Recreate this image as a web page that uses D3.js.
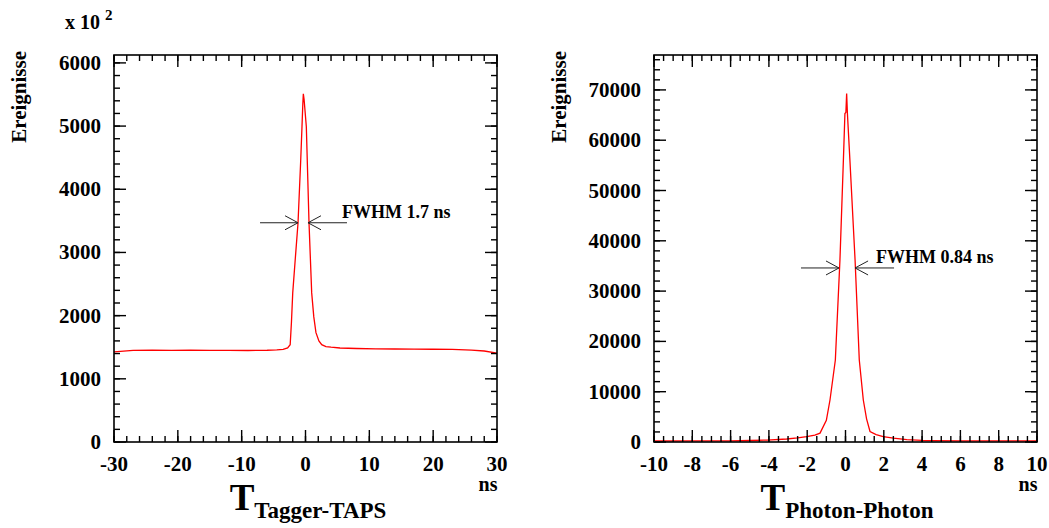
<!DOCTYPE html>
<html>
<head>
<meta charset="utf-8">
<script src="https://cdn.jsdelivr.net/npm/d3@7"></script>
<style>
  body { margin: 0; background: #fff; }
  svg text { font-family: "Liberation Serif", "Times New Roman", serif; font-weight: bold; fill: #000; }
</style>
</head>
<body>
<svg id="chart" width="1049" height="528"></svg>
<script>
// ---------- data ----------
// left: Tagger-TAPS time difference (ns), counts in units of 10^2
const taggerX = [-30, -27, -24, -21, -18, -15, -12, -9, -6, -4.5, -3.5, -2.8, -2.4, -2.2, -2.0, -1.6, -1.17, -0.75, -0.55, -0.42, -0.34, -0.22, 0.13, 0.55, 0.97, 1.3, 1.64, 2.1, 2.54, 3.2, 4, 5.4, 8, 11, 14, 17, 20, 23, 26, 28, 30];
const taggerY = [1425, 1450, 1455, 1450, 1455, 1450, 1450, 1448, 1452, 1458, 1465, 1490, 1540, 1900, 2360, 2900, 3470, 4460, 4990, 5350, 5510, 5420, 4990, 3470, 2360, 1980, 1730, 1600, 1540, 1510, 1500, 1488, 1480, 1475, 1472, 1470, 1468, 1465, 1455, 1440, 1408];

// right: Photon-Photon time difference (ns), counts
const photonX = [-10, -8, -6, -5, -4.1, -3.07, -2.5, -2.03, -1.6, -1.33, -1.0, -0.81, -0.53, -0.29, -0.11, -0.03, 0.02, 0.06, 0.1, 0.23, 0.5, 0.72, 0.93, 1.1, 1.28, 1.6, 1.97, 2.5, 3.2, 4, 4.6, 6, 8, 10];
const photonY = [200, 220, 240, 300, 380, 600, 820, 1080, 1380, 1760, 4300, 8350, 16300, 36180, 56060, 65300, 65500, 69300, 65300, 56060, 36180, 16300, 8350, 4600, 2080, 1480, 1080, 760, 480, 320, 260, 230, 210, 200];

const taggerXTicks = [-30, -20, -10, 0, 10, 20, 30];
const taggerYTicks = [0, 1000, 2000, 3000, 4000, 5000, 6000];
const photonXTicks = [-10, -8, -6, -4, -2, 0, 2, 4, 6, 8, 10];
const photonYTicks = [0, 10000, 20000, 30000, 40000, 50000, 60000, 70000];

// FWHM markers: [left edge, right edge, half-max level]
const taggerFwhm = [-1.17, 0.39, 3470];
const photonFwhm = [-0.34, 0.5, 34600];

const svg = d3.select('#chart');
svg.append('rect').attr('width', 1049).attr('height', 528).attr('fill', '#fff');

const tickJobs = [];

function drawPanel(cfg) {
    const g = svg.append('g');

    const x = d3.scaleLinear().domain(cfg.xDomain).range([cfg.left, cfg.right]);
    const y = d3.scaleLinear().domain(cfg.yDomain).range([cfg.bottom, cfg.top]);

    // histogram line
    const line = d3.line().x((d, i) => x(cfg.xs[i])).y(d => y(d));
    g.append('path')
        .datum(cfg.ys)
        .attr('d', line)
        .attr('fill', 'none')
        .attr('stroke', '#ff0000')
        .attr('stroke-width', 1.3);

    // frame
    g.append('rect')
        .attr('x', cfg.left).attr('y', cfg.top)
        .attr('width', cfg.right - cfg.left).attr('height', cfg.bottom - cfg.top)
        .attr('fill', 'none').attr('stroke', '#000').attr('stroke-width', 1.6);

    // tick labels
    g.append('g').selectAll('text').data(cfg.xTicks).join('text')
        .attr('x', d => x(d)).attr('y', cfg.bottom + 29)
        .attr('text-anchor', 'middle')
        .attr('font-size', 21)
        .text(d => String(d));
    g.append('g').selectAll('text').data(cfg.yTicks).join('text')
        .attr('x', cfg.left - 13).attr('y', d => y(d) + 7)
        .attr('text-anchor', 'end')
        .attr('font-size', 21)
        .text(d => String(d));

    // FWHM arrows
    const ay = y(cfg.fwhm[2]);
    const xl = x(cfg.fwhm[0]);
    const xr = x(cfg.fwhm[1]);
    const arr = g.append('g').attr('stroke', '#222').attr('stroke-width', 1).attr('fill', 'none');
    arr.append('line').attr('x1', xl - 38).attr('x2', xl).attr('y1', ay).attr('y2', ay);
    arr.append('path').attr('d', `M${xl - 13},${ay - 7}L${xl},${ay}L${xl - 13},${ay + 7}`);
    arr.append('line').attr('x1', xr).attr('x2', xr + 39).attr('y1', ay).attr('y2', ay);
    arr.append('path').attr('d', `M${xr + 13},${ay - 7}L${xr},${ay}L${xr + 13},${ay + 7}`);
    g.append('text')
        .attr('x', xr + cfg.fwhmTextDx).attr('y', ay - 5)
        .attr('font-size', 18)
        .text(cfg.fwhmText);

    // y title
    g.append('text')
        .attr('transform', `translate(${cfg.left - 88},${cfg.top - 4}) rotate(-90)`)
        .attr('text-anchor', 'end')
        .attr('font-size', 21)
        .text('Ereignisse');

    // ns unit
    g.append('text')
        .attr('x', cfg.right - 9).attr('y', cfg.bottom + 49)
        .attr('text-anchor', 'middle')
        .attr('font-size', 20)
        .text('ns');

    // x title
    const t = g.append('text')
        .attr('x', cfg.titleX).attr('y', cfg.bottom + 68)
        .attr('text-anchor', 'middle');
    t.append('tspan').attr('font-size', 37).text('T');
    t.append('tspan').attr('font-size', 23).attr('dy', 8).text(cfg.sub);

    // ticks are drawn at the very end, on top of everything
    tickJobs.push({ cfg, x, y });
}

drawPanel({
    name: 'tagger',
    left: 114, right: 497, top: 55, bottom: 442,
    xDomain: [-30, 30], yDomain: [0, 6125],
    xMinorStep: 2, yMinorStep: 200,
    xTicks: taggerXTicks, yTicks: taggerYTicks,
    xs: taggerX, ys: taggerY,
    fwhm: taggerFwhm, fwhmText: 'FWHM 1.7 ns', fwhmTextDx: 34,
    sub: 'Tagger-TAPS', titleX: 308
});

drawPanel({
    name: 'photon',
    left: 654, right: 1037, top: 55, bottom: 442,
    xDomain: [-10, 10], yDomain: [0, 76940],
    xMinorStep: 0.5, yMinorStep: 2000,
    xTicks: photonXTicks, yTicks: photonYTicks,
    xs: photonX, ys: photonY,
    fwhm: photonFwhm, fwhmText: 'FWHM 0.84 ns', fwhmTextDx: 21,
    sub: 'Photon-Photon', titleX: 847
});

// exponent label of left y axis
const expo = svg.append('text').attr('x', 65).attr('y', 29).attr('font-size', 20);
expo.append('tspan').text('x 10');
expo.append('tspan').attr('dy', -9).attr('dx', 5).attr('font-size', 15).text('2');

// inward ticks on all four sides, as thin filled bars
const tickLayer = svg.append('g').attr('fill', '#000');
tickJobs.forEach(({ cfg, x, y }) => {
    const xMinor = d3.range(cfg.xDomain[0], cfg.xDomain[1] + 1e-9, cfg.xMinorStep);
    const yMinor = d3.range(0, cfg.yDomain[1], cfg.yMinorStep);
    const w = 1.4;
    [[xMinor, 6], [cfg.xTicks, 12]].forEach(([vals, len]) => {
        tickLayer.selectAll(null).data(vals).join('rect')
            .attr('x', d => x(d) - w / 2).attr('y', cfg.bottom - len)
            .attr('width', w).attr('height', len);
        tickLayer.selectAll(null).data(vals).join('rect')
            .attr('x', d => x(d) - w / 2).attr('y', cfg.top)
            .attr('width', w).attr('height', len);
    });
    [[yMinor, 6], [cfg.yTicks, 12]].forEach(([vals, len]) => {
        tickLayer.selectAll(null).data(vals).join('rect')
            .attr('x', cfg.left).attr('y', d => y(d) - w / 2)
            .attr('width', len).attr('height', w);
        tickLayer.selectAll(null).data(vals).join('rect')
            .attr('x', cfg.right - len).attr('y', d => y(d) - w / 2)
            .attr('width', len).attr('height', w);
    });
});
</script>
</body>
</html>
